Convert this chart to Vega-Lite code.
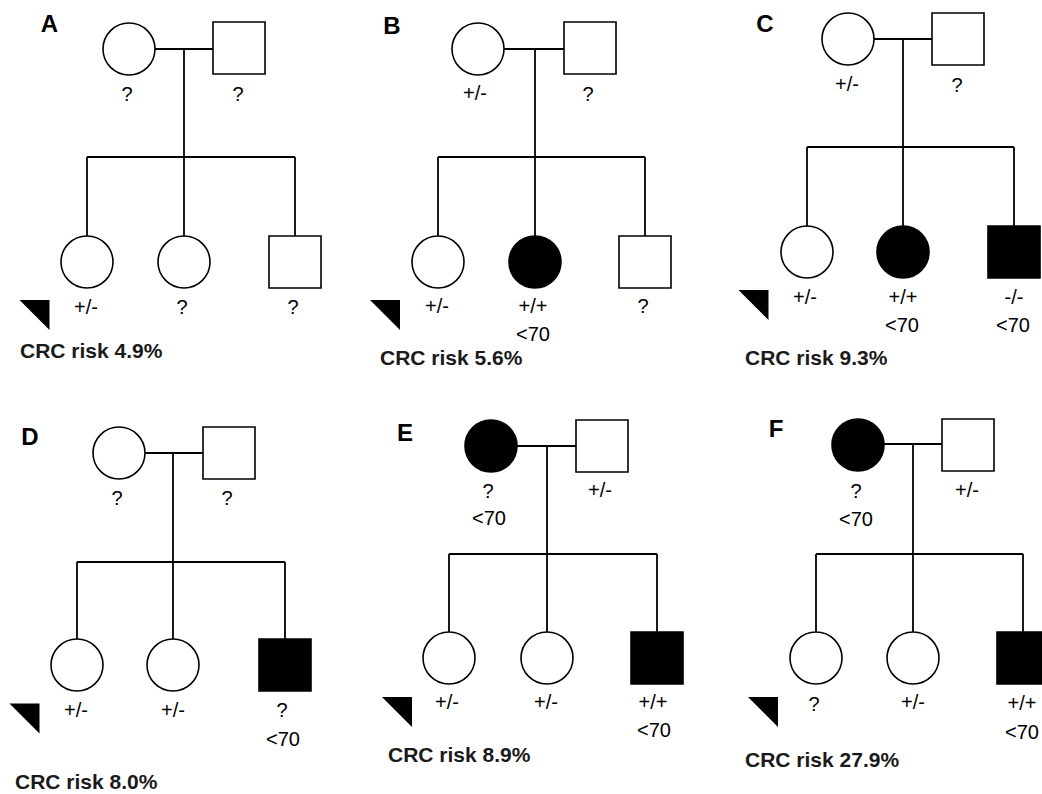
{
  "$schema": "https://vega.github.io/schema/vega-lite/v6.json",
  "width": 1042,
  "height": 794,
  "padding": 0,
  "autosize": {"type": "none"},
  "background": "white",
  "config": {"view": {"stroke": null}},
  "datasets": {
    "lines": [
      {"panel": "A", "x": 129, "y": 49, "x2": 239, "y2": 49},
      {"panel": "A", "x": 184, "y": 49, "x2": 184, "y2": 157},
      {"panel": "A", "x": 87, "y": 157, "x2": 295, "y2": 157},
      {"panel": "A", "x": 87, "y": 157, "x2": 87, "y2": 262},
      {"panel": "A", "x": 184, "y": 157, "x2": 184, "y2": 262},
      {"panel": "A", "x": 295, "y": 157, "x2": 295, "y2": 262},
      {"panel": "B", "x": 478, "y": 49, "x2": 590, "y2": 49},
      {"panel": "B", "x": 535, "y": 49, "x2": 535, "y2": 157},
      {"panel": "B", "x": 438, "y": 157, "x2": 645, "y2": 157},
      {"panel": "B", "x": 438, "y": 157, "x2": 438, "y2": 262},
      {"panel": "B", "x": 535, "y": 157, "x2": 535, "y2": 262},
      {"panel": "B", "x": 645, "y": 157, "x2": 645, "y2": 262},
      {"panel": "C", "x": 848, "y": 39, "x2": 958, "y2": 39},
      {"panel": "C", "x": 903, "y": 39, "x2": 903, "y2": 147},
      {"panel": "C", "x": 807, "y": 147, "x2": 1014, "y2": 147},
      {"panel": "C", "x": 807, "y": 147, "x2": 807, "y2": 252},
      {"panel": "C", "x": 903, "y": 147, "x2": 903, "y2": 252},
      {"panel": "C", "x": 1014, "y": 147, "x2": 1014, "y2": 252},
      {"panel": "D", "x": 119, "y": 453, "x2": 229, "y2": 453},
      {"panel": "D", "x": 173, "y": 453, "x2": 173, "y2": 562},
      {"panel": "D", "x": 77, "y": 562, "x2": 285, "y2": 562},
      {"panel": "D", "x": 77, "y": 562, "x2": 77, "y2": 665},
      {"panel": "D", "x": 173, "y": 562, "x2": 173, "y2": 665},
      {"panel": "D", "x": 285, "y": 562, "x2": 285, "y2": 665},
      {"panel": "E", "x": 491, "y": 446, "x2": 602, "y2": 446},
      {"panel": "E", "x": 547, "y": 446, "x2": 547, "y2": 554},
      {"panel": "E", "x": 449, "y": 554, "x2": 657, "y2": 554},
      {"panel": "E", "x": 449, "y": 554, "x2": 449, "y2": 658},
      {"panel": "E", "x": 547, "y": 554, "x2": 547, "y2": 658},
      {"panel": "E", "x": 657, "y": 554, "x2": 657, "y2": 658},
      {"panel": "F", "x": 858, "y": 444, "x2": 968, "y2": 444},
      {"panel": "F", "x": 913, "y": 444, "x2": 913, "y2": 554},
      {"panel": "F", "x": 816, "y": 554, "x2": 1023, "y2": 554},
      {"panel": "F", "x": 816, "y": 554, "x2": 816, "y2": 658},
      {"panel": "F", "x": 913, "y": 554, "x2": 913, "y2": 658},
      {"panel": "F", "x": 1023, "y": 554, "x2": 1023, "y2": 658}
    ],
    "people": [
      {"panel": "A", "x": 129, "y": 49, "sex": "F", "status": "unaffected"},
      {"panel": "A", "x": 239, "y": 48, "sex": "M", "status": "unaffected"},
      {"panel": "A", "x": 87, "y": 262, "sex": "F", "status": "unaffected"},
      {"panel": "A", "x": 184, "y": 262, "sex": "F", "status": "unaffected"},
      {"panel": "A", "x": 295, "y": 262, "sex": "M", "status": "unaffected"},
      {"panel": "B", "x": 478, "y": 49, "sex": "F", "status": "unaffected"},
      {"panel": "B", "x": 590, "y": 48, "sex": "M", "status": "unaffected"},
      {"panel": "B", "x": 438, "y": 262, "sex": "F", "status": "unaffected"},
      {"panel": "B", "x": 535, "y": 262, "sex": "F", "status": "affected"},
      {"panel": "B", "x": 645, "y": 262, "sex": "M", "status": "unaffected"},
      {"panel": "C", "x": 848, "y": 39, "sex": "F", "status": "unaffected"},
      {"panel": "C", "x": 958, "y": 39, "sex": "M", "status": "unaffected"},
      {"panel": "C", "x": 807, "y": 252, "sex": "F", "status": "unaffected"},
      {"panel": "C", "x": 903, "y": 252, "sex": "F", "status": "affected"},
      {"panel": "C", "x": 1014, "y": 252, "sex": "M", "status": "affected"},
      {"panel": "D", "x": 119, "y": 453, "sex": "F", "status": "unaffected"},
      {"panel": "D", "x": 229, "y": 453, "sex": "M", "status": "unaffected"},
      {"panel": "D", "x": 77, "y": 665, "sex": "F", "status": "unaffected"},
      {"panel": "D", "x": 173, "y": 665, "sex": "F", "status": "unaffected"},
      {"panel": "D", "x": 285, "y": 665, "sex": "M", "status": "affected"},
      {"panel": "E", "x": 491, "y": 446, "sex": "F", "status": "affected"},
      {"panel": "E", "x": 602, "y": 446, "sex": "M", "status": "unaffected"},
      {"panel": "E", "x": 449, "y": 658, "sex": "F", "status": "unaffected"},
      {"panel": "E", "x": 547, "y": 658, "sex": "F", "status": "unaffected"},
      {"panel": "E", "x": 657, "y": 658, "sex": "M", "status": "affected"},
      {"panel": "F", "x": 858, "y": 445, "sex": "F", "status": "affected"},
      {"panel": "F", "x": 968, "y": 445, "sex": "M", "status": "unaffected"},
      {"panel": "F", "x": 816, "y": 658, "sex": "F", "status": "unaffected"},
      {"panel": "F", "x": 913, "y": 658, "sex": "F", "status": "unaffected"},
      {"panel": "F", "x": 1023, "y": 658, "sex": "M", "status": "affected"}
    ],
    "probands": [
      {"panel": "A", "x": 34.5, "y": 315},
      {"panel": "B", "x": 385, "y": 315},
      {"panel": "C", "x": 753.5, "y": 305},
      {"panel": "D", "x": 24.5, "y": 718.5},
      {"panel": "E", "x": 397, "y": 712},
      {"panel": "F", "x": 763, "y": 712}
    ],
    "panels": [
      {"panel": "A", "x": 49.5, "y": 32},
      {"panel": "B", "x": 392, "y": 34},
      {"panel": "C", "x": 765, "y": 32},
      {"panel": "D", "x": 30, "y": 445},
      {"panel": "E", "x": 405, "y": 441},
      {"panel": "F", "x": 776, "y": 437}
    ],
    "genotypes": [
      {"panel": "A", "x": 127, "y": 101, "text": "?"},
      {"panel": "A", "x": 238, "y": 101, "text": "?"},
      {"panel": "A", "x": 86, "y": 314, "text": "+/-"},
      {"panel": "A", "x": 182, "y": 314, "text": "?"},
      {"panel": "A", "x": 293, "y": 314, "text": "?"},
      {"panel": "B", "x": 475, "y": 100, "text": "+/-"},
      {"panel": "B", "x": 588, "y": 101, "text": "?"},
      {"panel": "B", "x": 437, "y": 313, "text": "+/-"},
      {"panel": "B", "x": 533, "y": 313, "text": "+/+"},
      {"panel": "B", "x": 533, "y": 341, "text": "<70"},
      {"panel": "B", "x": 643, "y": 313, "text": "?"},
      {"panel": "C", "x": 847, "y": 91, "text": "+/-"},
      {"panel": "C", "x": 957, "y": 92, "text": "?"},
      {"panel": "C", "x": 805, "y": 304, "text": "+/-"},
      {"panel": "C", "x": 903, "y": 304, "text": "+/+"},
      {"panel": "C", "x": 902, "y": 332, "text": "<70"},
      {"panel": "C", "x": 1014, "y": 304, "text": "-/-"},
      {"panel": "C", "x": 1013, "y": 332, "text": "<70"},
      {"panel": "D", "x": 117, "y": 505, "text": "?"},
      {"panel": "D", "x": 227, "y": 505, "text": "?"},
      {"panel": "D", "x": 76, "y": 717, "text": "+/-"},
      {"panel": "D", "x": 173, "y": 717, "text": "+/-"},
      {"panel": "D", "x": 282, "y": 717, "text": "?"},
      {"panel": "D", "x": 283, "y": 746, "text": "<70"},
      {"panel": "E", "x": 488, "y": 498, "text": "?"},
      {"panel": "E", "x": 489, "y": 525, "text": "<70"},
      {"panel": "E", "x": 600, "y": 497, "text": "+/-"},
      {"panel": "E", "x": 447, "y": 709, "text": "+/-"},
      {"panel": "E", "x": 546, "y": 709, "text": "+/-"},
      {"panel": "E", "x": 653, "y": 709, "text": "+/+"},
      {"panel": "E", "x": 654, "y": 737, "text": "<70"},
      {"panel": "F", "x": 856, "y": 498, "text": "?"},
      {"panel": "F", "x": 856, "y": 526, "text": "<70"},
      {"panel": "F", "x": 967, "y": 497, "text": "+/-"},
      {"panel": "F", "x": 814, "y": 711, "text": "?"},
      {"panel": "F", "x": 913, "y": 709, "text": "+/-"},
      {"panel": "F", "x": 1022, "y": 710, "text": "+/+"},
      {"panel": "F", "x": 1022, "y": 739, "text": "<70"}
    ],
    "risks": [
      {"panel": "A", "x": 20, "y": 358, "text": "CRC risk 4.9%"},
      {"panel": "B", "x": 380, "y": 365, "text": "CRC risk 5.6%"},
      {"panel": "C", "x": 745, "y": 365, "text": "CRC risk 9.3%"},
      {"panel": "D", "x": 15, "y": 789, "text": "CRC risk 8.0%"},
      {"panel": "E", "x": 388, "y": 762, "text": "CRC risk 8.9%"},
      {"panel": "F", "x": 745, "y": 767, "text": "CRC risk 27.9%"}
    ]
  },
  "layer": [
    {
      "data": {"name": "lines"},
      "mark": {"type": "rule", "stroke": "black", "strokeWidth": 1.8},
      "encoding": {
        "x": {"field": "x", "type": "quantitative", "scale": {"domain": [0, 1042], "nice": false, "zero": false}, "axis": null},
        "y": {"field": "y", "type": "quantitative", "scale": {"domain": [0, 794], "nice": false, "zero": false, "reverse": true}, "axis": null},
        "x2": {"field": "x2"},
        "y2": {"field": "y2"}
      }
    },
    {
      "data": {"name": "people"},
      "mark": {"type": "point", "filled": true, "opacity": 1, "stroke": "black", "strokeWidth": 1.6, "size": 2704},
      "encoding": {
        "x": {"field": "x", "type": "quantitative", "scale": {"domain": [0, 1042], "nice": false, "zero": false}, "axis": null},
        "y": {"field": "y", "type": "quantitative", "scale": {"domain": [0, 794], "nice": false, "zero": false, "reverse": true}, "axis": null},
        "shape": {"field": "sex", "type": "nominal", "scale": {"domain": ["F", "M"], "range": ["circle", "square"]}, "legend": null},
        "fill": {"field": "status", "type": "nominal", "scale": {"domain": ["affected", "unaffected"], "range": ["black", "white"]}, "legend": null}
      }
    },
    {
      "data": {"name": "probands"},
      "mark": {"type": "point", "filled": true, "opacity": 1, "fill": "black", "strokeWidth": 0, "size": 900, "shape": "M -1 -1 L 1 -1 L 1 1 Z"},
      "encoding": {
        "x": {"field": "x", "type": "quantitative", "scale": {"domain": [0, 1042], "nice": false, "zero": false}, "axis": null},
        "y": {"field": "y", "type": "quantitative", "scale": {"domain": [0, 794], "nice": false, "zero": false, "reverse": true}, "axis": null}
      }
    },
    {
      "data": {"name": "panels"},
      "mark": {"type": "text", "font": "Liberation Sans", "fontSize": 24, "fontWeight": "bold", "align": "center", "baseline": "alphabetic", "color": "black"},
      "encoding": {
        "x": {"field": "x", "type": "quantitative", "scale": {"domain": [0, 1042], "nice": false, "zero": false}, "axis": null},
        "y": {"field": "y", "type": "quantitative", "scale": {"domain": [0, 794], "nice": false, "zero": false, "reverse": true}, "axis": null},
        "text": {"field": "panel"}
      }
    },
    {
      "data": {"name": "genotypes"},
      "mark": {"type": "text", "font": "Liberation Sans", "fontSize": 20, "align": "center", "baseline": "alphabetic", "color": "black"},
      "encoding": {
        "x": {"field": "x", "type": "quantitative", "scale": {"domain": [0, 1042], "nice": false, "zero": false}, "axis": null},
        "y": {"field": "y", "type": "quantitative", "scale": {"domain": [0, 794], "nice": false, "zero": false, "reverse": true}, "axis": null},
        "text": {"field": "text"}
      }
    },
    {
      "data": {"name": "risks"},
      "mark": {"type": "text", "font": "Liberation Sans", "fontSize": 21, "fontWeight": "bold", "align": "left", "baseline": "alphabetic", "color": "#1a1a1a"},
      "encoding": {
        "x": {"field": "x", "type": "quantitative", "scale": {"domain": [0, 1042], "nice": false, "zero": false}, "axis": null},
        "y": {"field": "y", "type": "quantitative", "scale": {"domain": [0, 794], "nice": false, "zero": false, "reverse": true}, "axis": null},
        "text": {"field": "text"}
      }
    }
  ]
}
